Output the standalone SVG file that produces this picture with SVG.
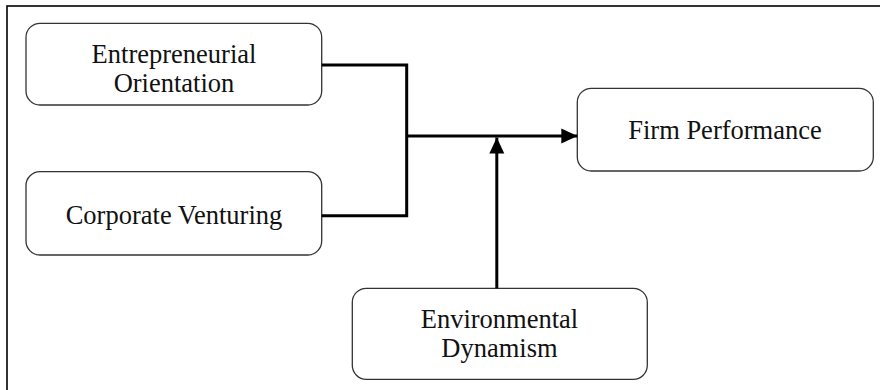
<svg xmlns="http://www.w3.org/2000/svg" width="880" height="390" viewBox="0 0 880 390">
<style>
.box{fill:#fff;stroke:#333;stroke-width:1.3}
.lbl{font-family:"Liberation Serif","Times New Roman",serif;font-size:26.5px;fill:#111;text-anchor:middle}
.conn{fill:none;stroke:#000;stroke-width:3}
</style>
<defs>
<marker id="arr" markerUnits="userSpaceOnUse" viewBox="0 0 16 16" refX="16" refY="8" markerWidth="16" markerHeight="16" orient="auto">
<path d="M0,0.5 L16,8 L0,15.5 Z" fill="#000"/>
</marker>
</defs>
<rect x="0" y="0" width="880" height="390" fill="#fff"/>
<rect x="7" y="6" width="900" height="420" fill="none" stroke="#000" stroke-width="1.6"/>
<g id="eo">
<rect class="box" x="26" y="23.3" width="295.7" height="81.7" rx="14"/>
<text class="lbl" x="174" y="63.3">Entrepreneurial</text>
<text class="lbl" x="174" y="91.7">Orientation</text>
</g>
<g id="cv">
<rect class="box" x="26" y="171.7" width="295.7" height="83.3" rx="14"/>
<text class="lbl" x="174" y="224.3">Corporate Venturing</text>
</g>
<g id="fp">
<rect class="box" x="577.3" y="88.3" width="296" height="82.7" rx="14"/>
<text class="lbl" x="725" y="139.3">Firm Performance</text>
</g>
<g id="ed">
<rect class="box" x="352.3" y="288.3" width="295" height="91" rx="14"/>
<text class="lbl" x="499.5" y="327.7">Environmental</text>
<text class="lbl" x="499.5" y="357.3">Dynamism</text>
</g>
<g id="connectors">
<polyline class="conn" points="321.7,65 406.7,65 406.7,215.7 321.7,215.7"/>
<line class="conn" x1="406.7" y1="136" x2="577.3" y2="136" marker-end="url(#arr)"/>
<line class="conn" x1="496.8" y1="288.3" x2="496.8" y2="137.5" marker-end="url(#arr)"/>
</g>
</svg>
